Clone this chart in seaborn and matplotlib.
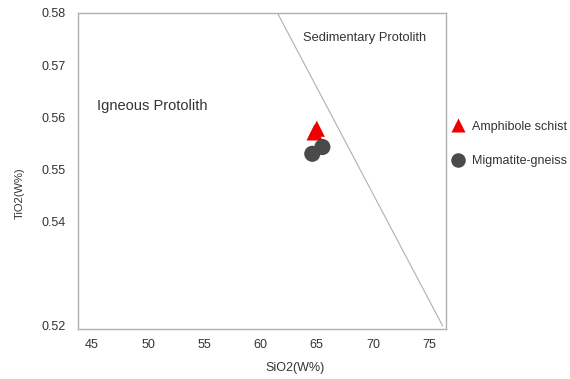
import numpy as np
import matplotlib
matplotlib.use("Agg")
import matplotlib.pyplot as plt
import seaborn as sns
import pandas as pd

# samples
schist_sio2 = [64.8, 65.0]
schist_tio2 = [0.5571, 0.5578]
gneiss_sio2 = [64.6, 65.5]
gneiss_tio2 = [0.5530, 0.5543]

# igneous / sedimentary boundary
boundary_sio2 = [61.5, 76.2]
boundary_tio2 = [0.58, 0.52]

x_ticks = [45, 50, 55, 60, 65, 70, 75]
y_ticks = [0.52, 0.54, 0.55, 0.56, 0.57, 0.58]

df = pd.DataFrame({
    "SiO2": schist_sio2 + gneiss_sio2,
    "TiO2": schist_tio2 + gneiss_tio2,
    "rock": ["Amphibole schist"] * len(schist_sio2) + ["Migmatite-gneiss"] * len(gneiss_sio2),
})

sns.set_style("white")
plt.rcParams["font.family"] = ["Liberation Sans", "DejaVu Sans"]

fig = plt.figure(figsize=(5.7, 3.79), dpi=100)
ax = fig.add_axes([0.1368, 0.1319, 0.6457, 0.8338])

ax.plot(boundary_sio2, boundary_tio2, color="#b0b0b0", lw=0.8, zorder=1)

sns.scatterplot(data=df, x="SiO2", y="TiO2", hue="rock", style="rock",
                palette={"Amphibole schist": "#ee0000", "Migmatite-gneiss": "#4a4a4a"},
                markers={"Amphibole schist": "^", "Migmatite-gneiss": "o"},
                s=135, edgecolor="none", ax=ax, zorder=3)

ax.set_xlim(43.75, 76.5)
ax.set_ylim(0.5194, 0.5796)
ax.set_xticks(x_ticks)
ax.set_yticks(y_ticks)
ax.set_yticklabels([f"{v:.2f}" for v in y_ticks])
ax.tick_params(length=0, labelsize=9, labelcolor="#333333")
ax.tick_params(axis="y", pad=9)
ax.tick_params(axis="x", pad=7)

for s in ax.spines.values():
    s.set_color("#b0b0b0")
    s.set_linewidth(1.0)

ax.set_xlabel("SiO2(W%)", fontsize=9, color="#333333")
ax.set_ylabel("TiO2(W%)", fontsize=8, color="#333333")
ax.xaxis.set_label_coords(0.59, -0.105)
ax.yaxis.set_label_coords(-0.145, 0.43)

ax.text(45.45, 0.5621, "Igneous Protolith", fontsize=10.5, color="#333333", va="center")
ax.text(63.8, 0.5753, "Sedimentary Protolith", fontsize=9.3, color="#333333", va="center")

leg = ax.legend(loc="upper left", bbox_to_anchor=(0.985, 0.675), frameon=False,
                fontsize=9, labelspacing=1.8, handletextpad=0.1,
                markerscale=0.9, borderaxespad=0)
for t in leg.get_texts():
    t.set_color("#333333")

fig.savefig("out.png", dpi=100)
